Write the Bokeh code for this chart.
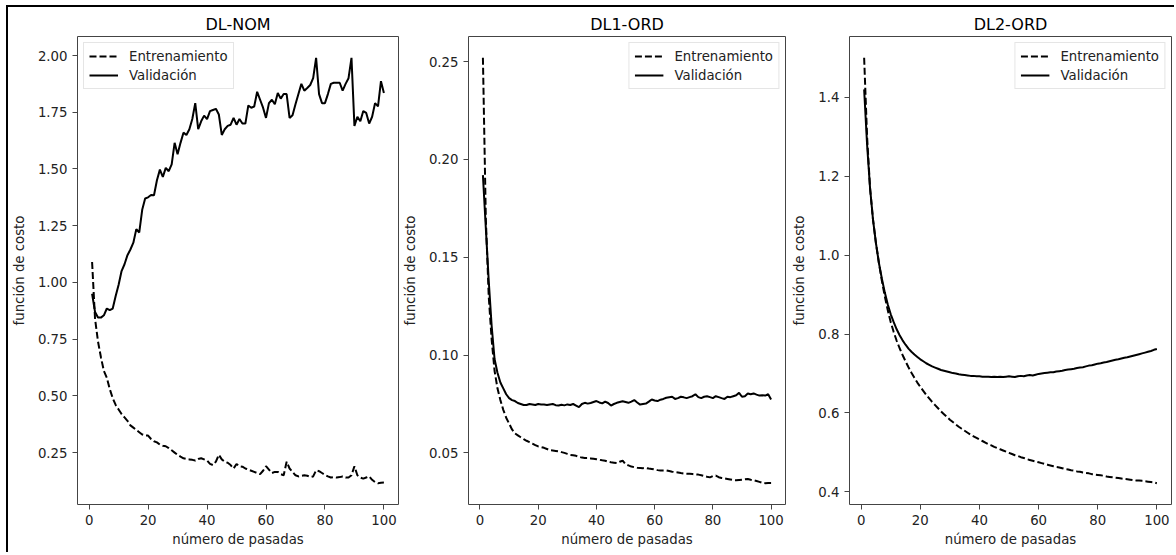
from bokeh.plotting import figure
from bokeh.layouts import row
from bokeh.models import FixedTicker, PrintfTickFormatter, Range1d
from bokeh.embed import file_html
from bokeh.resources import INLINE

epochs = list(range(1, 101))

titles = ["DL-NOM", "DL1-ORD", "DL2-ORD"]
x_label = "número de pasadas"
y_label = "función de costo"
train_label = "Entrenamiento"
val_label = "Validación"
x_ticks = [0, 20, 40, 60, 80, 100]
y_ticks_nom = [0.25, 0.50, 0.75, 1.00, 1.25, 1.50, 1.75, 2.00]
y_ticks_dl1 = [0.05, 0.10, 0.15, 0.20, 0.25]
y_ticks_dl2 = [0.4, 0.6, 0.8, 1.0, 1.2, 1.4]

nom_train = [
    1.09, 0.84, 0.74, 0.67, 0.61, 0.58, 0.53, 0.49, 0.46, 0.44,
    0.42, 0.405, 0.39, 0.37, 0.36, 0.35, 0.34, 0.33, 0.325, 0.325,
    0.31, 0.30, 0.295, 0.285, 0.28, 0.278, 0.27, 0.26, 0.25, 0.24,
    0.232, 0.225, 0.222, 0.22, 0.218, 0.215, 0.222, 0.225, 0.22, 0.215,
    0.20, 0.195, 0.21, 0.24, 0.22, 0.21, 0.205, 0.195, 0.18, 0.20,
    0.19, 0.188, 0.18, 0.175, 0.17, 0.165, 0.16, 0.155, 0.17, 0.19,
    0.175, 0.16, 0.165, 0.165, 0.155, 0.15, 0.21, 0.18, 0.165, 0.15,
    0.145, 0.148, 0.15, 0.148, 0.142, 0.145, 0.172, 0.168, 0.16, 0.152,
    0.145, 0.14, 0.142, 0.14, 0.142, 0.145, 0.14, 0.14, 0.15, 0.19,
    0.15, 0.14, 0.135, 0.14, 0.145, 0.13, 0.12, 0.115, 0.117, 0.118,
]
nom_val = [
    0.95, 0.87, 0.845, 0.845, 0.855, 0.885, 0.878, 0.885, 0.94, 0.99,
    1.05, 1.08, 1.12, 1.145, 1.175, 1.235, 1.22, 1.32, 1.37, 1.375,
    1.385, 1.384, 1.45, 1.497, 1.465, 1.505, 1.49, 1.52, 1.615, 1.565,
    1.615, 1.66, 1.65, 1.675, 1.72, 1.79, 1.675, 1.71, 1.735, 1.72,
    1.755, 1.76, 1.765, 1.74, 1.65, 1.675, 1.69, 1.695, 1.725, 1.695,
    1.72, 1.70, 1.70, 1.78, 1.77, 1.775, 1.84, 1.805, 1.77, 1.725,
    1.79, 1.805, 1.785, 1.835, 1.81, 1.83, 1.83, 1.725, 1.737, 1.785,
    1.83, 1.875, 1.845, 1.857, 1.87, 1.90, 1.99, 1.83, 1.79, 1.79,
    1.83, 1.875, 1.88, 1.88, 1.88, 1.845, 1.875, 1.90, 1.99, 1.69,
    1.73, 1.71, 1.755, 1.747, 1.70, 1.73, 1.79, 1.776, 1.887, 1.835,
]
dl1_train = [
    0.252, 0.170, 0.130, 0.108, 0.092, 0.083, 0.077, 0.072, 0.068, 0.065,
    0.062, 0.060, 0.059, 0.058, 0.057, 0.0562, 0.0555, 0.0548, 0.054, 0.0533,
    0.053, 0.0526, 0.052, 0.0514, 0.0512, 0.051, 0.0508, 0.0504, 0.050, 0.0495,
    0.049, 0.0488, 0.0485, 0.048, 0.0476, 0.0474, 0.0474, 0.0472, 0.047, 0.0468,
    0.0465, 0.0462, 0.046, 0.0455, 0.0452, 0.045, 0.0448, 0.0455, 0.046, 0.0442,
    0.0436, 0.043, 0.0427, 0.0424, 0.0423, 0.0422, 0.0423, 0.042, 0.0418, 0.0415,
    0.0412, 0.041, 0.041, 0.041, 0.0407, 0.0404, 0.0402, 0.040, 0.0397, 0.0395,
    0.0394, 0.0393, 0.0392, 0.039, 0.0389, 0.0386, 0.0382, 0.0378, 0.0375, 0.0382,
    0.0384, 0.0376, 0.0372, 0.037, 0.0367, 0.0364, 0.0361, 0.036, 0.0362, 0.0363,
    0.0365, 0.0367, 0.0363, 0.036, 0.0356, 0.0352, 0.0347, 0.0345, 0.0346, 0.0346,
]
dl1_val = [
    0.192, 0.165, 0.138, 0.115, 0.098, 0.091, 0.086, 0.083, 0.080, 0.078,
    0.077, 0.0765, 0.0755, 0.075, 0.0745, 0.0745, 0.075, 0.0748, 0.0745, 0.075,
    0.0748, 0.0747, 0.0745, 0.0748, 0.075, 0.0744, 0.0742, 0.0746, 0.0743, 0.0748,
    0.0745, 0.075, 0.0742, 0.0734, 0.075, 0.0756, 0.0752, 0.0755, 0.076, 0.0765,
    0.0758, 0.0753, 0.0762, 0.0755, 0.0742, 0.075, 0.0756, 0.076, 0.0764, 0.076,
    0.0756, 0.0762, 0.077, 0.0758, 0.0747, 0.075, 0.0752, 0.0762, 0.0773, 0.0768,
    0.0765, 0.0772, 0.0776, 0.0782, 0.0785, 0.0787, 0.0776, 0.078, 0.0787, 0.0784,
    0.078, 0.0785, 0.079, 0.080, 0.0785, 0.078, 0.0787, 0.079, 0.0785, 0.078,
    0.079, 0.0785, 0.078, 0.0776, 0.0787, 0.0785, 0.079, 0.0795, 0.0807, 0.0787,
    0.079, 0.0804, 0.080, 0.0804, 0.0798, 0.0793, 0.0795, 0.0793, 0.080, 0.0773,
]
dl2_train = [
    1.50, 1.30, 1.17, 1.09, 1.03, 0.98, 0.935, 0.895, 0.86, 0.83,
    0.805, 0.783, 0.764, 0.747, 0.731, 0.716, 0.702, 0.689, 0.677, 0.666,
    0.656, 0.646, 0.637, 0.628, 0.62, 0.612, 0.604, 0.597, 0.59, 0.583,
    0.577, 0.571, 0.565, 0.56, 0.555, 0.55, 0.545, 0.541, 0.537, 0.533,
    0.529, 0.525, 0.521, 0.518, 0.514, 0.511, 0.508, 0.505, 0.502, 0.499,
    0.496, 0.493, 0.491, 0.488, 0.486, 0.483, 0.481, 0.479, 0.477, 0.475,
    0.473, 0.471, 0.469, 0.467, 0.465, 0.463, 0.462, 0.46, 0.458, 0.457,
    0.455, 0.454, 0.452, 0.451, 0.449, 0.448, 0.447, 0.445, 0.444, 0.443,
    0.442, 0.441, 0.439, 0.438, 0.437, 0.436, 0.435, 0.434, 0.433, 0.432,
    0.431, 0.43, 0.429, 0.429, 0.428, 0.427, 0.426, 0.425, 0.424, 0.422,
]
dl2_val = [
    1.42, 1.28, 1.17, 1.09, 1.03, 0.98, 0.94, 0.905, 0.875, 0.85,
    0.83, 0.812, 0.797, 0.784, 0.773, 0.763, 0.755, 0.748, 0.742, 0.736,
    0.731, 0.726, 0.722, 0.718, 0.715, 0.712, 0.709, 0.707, 0.705, 0.703,
    0.701, 0.70, 0.698, 0.697, 0.696, 0.695, 0.694, 0.694, 0.693, 0.693,
    0.692, 0.692, 0.692, 0.691, 0.692, 0.691, 0.692, 0.691, 0.692, 0.693,
    0.692, 0.691, 0.693, 0.694, 0.693, 0.695, 0.696, 0.695, 0.697, 0.699,
    0.70, 0.701, 0.702, 0.703, 0.703, 0.705, 0.706, 0.707, 0.709, 0.71,
    0.711, 0.712, 0.714, 0.715, 0.716, 0.718, 0.72, 0.721, 0.723, 0.725,
    0.726, 0.728, 0.729, 0.731, 0.733, 0.735, 0.736, 0.738, 0.74, 0.741,
    0.743, 0.745, 0.747, 0.749, 0.751, 0.753, 0.755, 0.757, 0.76, 0.762,
]

FONT = "DejaVu Sans"
TXT = "#222222"
FRAME = "#444444"
FS = "13.3px"

B_TOP, FRAME_W, FRAME_H, B_BOT = 29, 322, 468, 48


def padded(*series):
    lo = min(min(s) for s in series)
    hi = max(max(s) for s in series)
    pad = 0.05 * (hi - lo)
    return Range1d(lo - pad, hi + pad)


def make_panel(title, train, val, yticks, fmt, legend_loc, border_left, border_right):
    xr = padded(epochs)
    yr = padded(train, val)
    p = figure(
        width=border_left + FRAME_W + border_right, height=B_TOP + FRAME_H + B_BOT,
        min_border_left=border_left, min_border_right=border_right,
        min_border_top=B_TOP, min_border_bottom=B_BOT,
        x_range=xr, y_range=yr,
        output_backend="svg", toolbar_location=None, title=title,
    )
    p.background_fill_color = "white"
    p.border_fill_color = "white"
    p.outline_line_color = FRAME
    p.outline_line_width = 1
    p.grid.visible = False

    p.title.text_font = FONT
    p.title.text_font_size = "16px"
    p.title.text_font_style = "normal"
    p.title.text_color = "black"
    p.title.align = "center"
    p.title.standoff = 5

    for ax in (p.xaxis[0], p.yaxis[0]):
        ax.axis_line_color = None
        ax.major_tick_line_color = FRAME
        ax.major_tick_out = 5
        ax.major_tick_in = 0
        ax.minor_tick_line_color = None
        ax.major_label_text_font = FONT
        ax.major_label_text_font_size = FS
        ax.major_label_text_color = TXT
        ax.major_label_standoff = 5
        ax.axis_label_text_font = FONT
        ax.axis_label_text_font_size = FS
        ax.axis_label_text_font_style = "normal"
        ax.axis_label_text_color = TXT
    p.xaxis.axis_label = x_label
    p.yaxis.axis_label = y_label
    p.xaxis.ticker = FixedTicker(ticks=x_ticks)
    p.yaxis.ticker = FixedTicker(ticks=yticks)
    p.yaxis.formatter = PrintfTickFormatter(format=fmt)
    p.xaxis.axis_label_standoff = 4
    p.yaxis.axis_label_standoff = 8

    p.line(epochs, train, line_color="black", line_width=2, line_dash="7 3",
           legend_label=train_label)
    p.line(epochs, val, line_color="black", line_width=2,
           legend_label=val_label)

    lg = p.legend[0]
    lg.location = legend_loc
    lg.margin = 6
    lg.padding = 5
    lg.spacing = 3
    lg.glyph_width = 29
    lg.glyph_height = 16
    lg.label_height = 16
    lg.label_standoff = 11
    lg.label_text_font = FONT
    lg.label_text_font_size = FS
    lg.label_text_color = TXT
    lg.border_line_color = "#cccccc"
    lg.border_line_width = 1
    lg.background_fill_color = "white"
    lg.background_fill_alpha = 0.8
    return p


p1 = make_panel(titles[0], nom_train, nom_val, y_ticks_nom, "%.2f", "top_left", 68, 1)
p2 = make_panel(titles[1], dl1_train, dl1_val, y_ticks_dl1, "%.2f", "top_right", 64, 1)
p3 = make_panel(titles[2], dl2_train, dl2_val, y_ticks_dl2, "%.1f", "top_right", 63, 3)

layout = row(p1, p2, p3, margin=(5, 0, 0, 6), styles={
    "border-left": "2px solid black",
    "border-top": "2px solid black",
})

open("out.html", "w").write(file_html(layout, INLINE))
